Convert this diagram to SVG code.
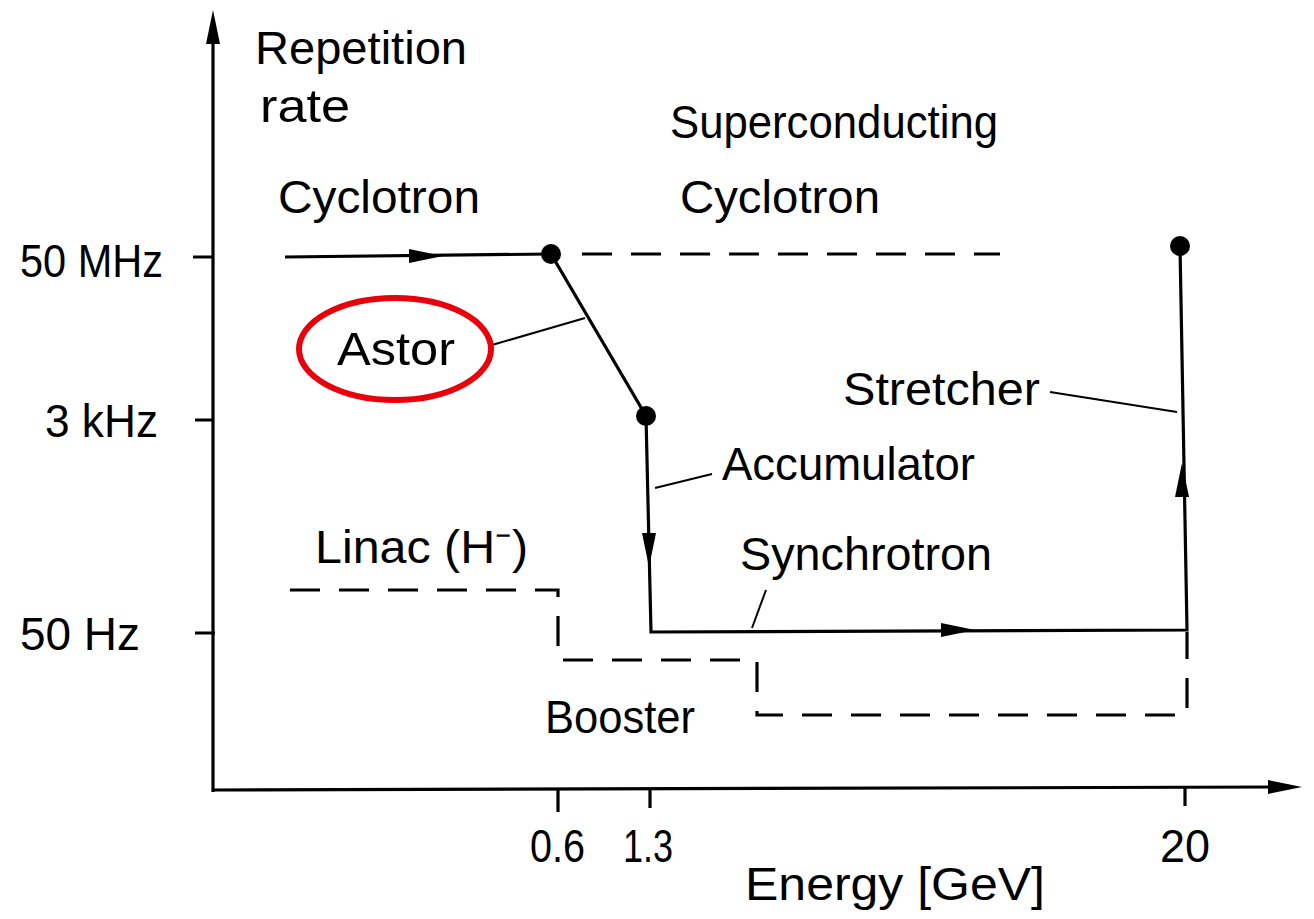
<svg xmlns="http://www.w3.org/2000/svg" width="1314" height="919" viewBox="0 0 1314 919">
<style>
text{font-family:"Liberation Sans",Arial,sans-serif;font-size:46px;fill:#000}
.ln{fill:none;stroke:#000;stroke-width:3.2;stroke-linecap:butt}
.thin{fill:none;stroke:#000;stroke-width:2}
.dash{fill:none;stroke:#000;stroke-width:3.2;stroke-dasharray:30 19}
.dot{fill:#000}
</style>
<defs>
<path id="ah" d="M0,0 L-34,-7 L-34,7 Z" fill="#000"/>
</defs>
<rect width="1314" height="919" fill="#fff"/>
<g id="axes">
<path class="ln" d="M213,792 L213,30"/>
<use href="#ah" transform="translate(213,10) rotate(-90)"/>
<path class="ln" d="M213,790 L1275,787"/>
<use href="#ah" transform="translate(1302,787)"/>
<path class="ln" d="M193,257 L213,257 M195,420 L213,420 M195,633 L215,633"/>
<path class="ln" d="M558,790 L558,812 M650,790 L650,808 M1185,788 L1185,806"/>
</g>
<g id="axis-labels">
<text x="255" y="64" textLength="212" lengthAdjust="spacingAndGlyphs">Repetition</text>
<text x="260" y="122" textLength="90" lengthAdjust="spacingAndGlyphs">rate</text>
<text x="20" y="277" textLength="143" lengthAdjust="spacingAndGlyphs">50 MHz</text>
<text x="45" y="437" textLength="113" lengthAdjust="spacingAndGlyphs">3 kHz</text>
<text x="20" y="650" textLength="120" lengthAdjust="spacingAndGlyphs">50 Hz</text>
<text x="530" y="862" textLength="55" lengthAdjust="spacingAndGlyphs">0.6</text>
<text x="623" y="862" textLength="50" lengthAdjust="spacingAndGlyphs">1.3</text>
<text x="1160" y="862" textLength="50" lengthAdjust="spacingAndGlyphs">20</text>
<text x="745" y="900" textLength="300" lengthAdjust="spacingAndGlyphs">Energy [GeV]</text>
</g>
<g id="connectors">
<path class="ln" d="M285,257 L551,254"/>
<use href="#ah" transform="translate(443,256)"/>
<path class="dash" d="M582,254 L1000,254"/>
<path class="ln" d="M551,254 L646,416 L651,632 L1187,630 L1180,246"/>
<use href="#ah" transform="translate(649,567) rotate(90)"/>
<use href="#ah" transform="translate(975,630)"/>
<use href="#ah" transform="translate(1182,463) rotate(-90)"/>
<path class="dash" d="M290,590 L558,590 L558,660 L757,660 L757,715 L1187,715 L1187,632"/>
<path class="thin" d="M492,345 L585,318"/>
<path class="thin" d="M655,488 L712,474"/>
<path class="thin" d="M1050,392 L1177,412"/>
<path class="thin" d="M766,590 L752,628"/>
</g>
<g id="n-cyclotron-point"><circle class="dot" cx="551" cy="254" r="10"/></g>
<g id="n-accumulator-point"><circle class="dot" cx="646" cy="416" r="10"/></g>
<g id="n-stretcher-point"><circle class="dot" cx="1180" cy="246" r="10"/></g>
<g id="n-cyclotron"><text x="278" y="213" textLength="202" lengthAdjust="spacingAndGlyphs">Cyclotron</text></g>
<g id="n-sc-cyclotron">
<text x="670" y="138" textLength="328" lengthAdjust="spacingAndGlyphs">Superconducting</text>
<text x="680" y="213" textLength="200" lengthAdjust="spacingAndGlyphs">Cyclotron</text>
</g>
<g id="n-astor">
<ellipse cx="395" cy="349" rx="96" ry="51" fill="none" stroke="#e8000b" stroke-width="6"/>
<text x="337" y="365" textLength="118" lengthAdjust="spacingAndGlyphs">Astor</text>
</g>
<g id="n-stretcher"><text x="843" y="405" textLength="197" lengthAdjust="spacingAndGlyphs">Stretcher</text></g>
<g id="n-accumulator"><text x="722" y="480" textLength="253" lengthAdjust="spacingAndGlyphs">Accumulator</text></g>
<g id="n-synchrotron"><text x="740" y="570" textLength="252" lengthAdjust="spacingAndGlyphs">Synchrotron</text></g>
<g id="n-linac"><text x="315" y="563" textLength="213" lengthAdjust="spacingAndGlyphs">Linac (H⁻)</text></g>
<g id="n-booster"><text x="545" y="733" textLength="150" lengthAdjust="spacingAndGlyphs">Booster</text></g>
</svg>
